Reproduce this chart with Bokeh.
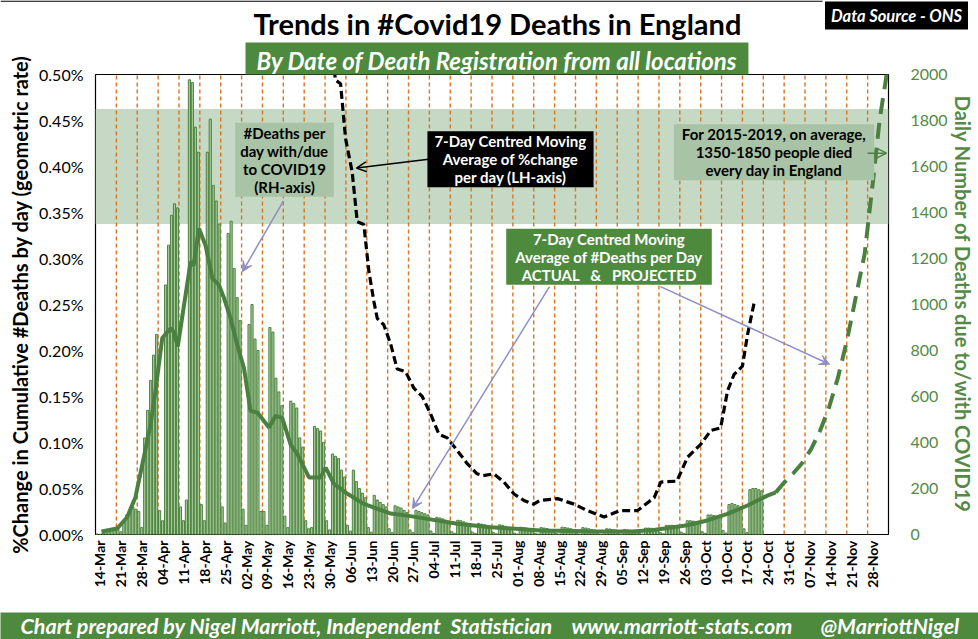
import math
import numpy as np
from bokeh.plotting import figure
from bokeh.layouts import column
from bokeh.models import (Range1d, LinearAxis, FixedTicker, PrintfTickFormatter,
                          BoxAnnotation, Label, Arrow, VeeHead, OpenHead)
from bokeh.embed import file_html
from bokeh.resources import INLINE

# ---------------- data ----------------
TICK_LABELS = ["14-Mar", "21-Mar", "28-Mar", "04-Apr", "11-Apr", "18-Apr", "25-Apr",
               "02-May", "09-May", "16-May", "23-May", "30-May", "06-Jun", "13-Jun",
               "20-Jun", "27-Jun", "04-Jul", "11-Jul", "18-Jul", "25-Jul", "01-Aug",
               "08-Aug", "15-Aug", "22-Aug", "29-Aug", "05-Sep", "12-Sep", "19-Sep",
               "26-Sep", "03-Oct", "10-Oct", "17-Oct", "24-Oct", "31-Oct", "07-Nov",
               "14-Nov", "21-Nov", "28-Nov"]
LEFT_TICKS = [0.0, 0.05, 0.10, 0.15, 0.20, 0.25, 0.30, 0.35, 0.40, 0.45, 0.50]
RIGHT_TICKS = [0, 200, 400, 600, 800, 1000, 1200, 1400, 1600, 1800, 2000]

# daily registered deaths (from 14-Mar, one value per day)
DAILY_DEATHS = [
    2, 1, 5, 8, 12, 18, 25,
    30, 12, 60, 85, 105, 120, 110,
    100, 30, 420, 540, 670, 780, 870,
    104, 60, 1085, 1258, 1388, 1438, 1420,
    120, 60, 150, 1977, 1965, 1771, 1662,
    130, 60, 1662, 1806, 1518, 1450, 1350,
    120, 50, 1309, 1362, 1157, 1030, 930,
    110, 40, 913, 1000, 850, 800, 100,
    100, 40, 900, 880, 680, 620, 560,
    80, 30, 580, 570, 550, 420, 380,
    60, 25, 30, 470, 460, 450, 400,
    60, 20, 350, 340, 330, 280, 250,
    40, 15, 280, 230, 200, 180, 160,
    30, 10, 170, 150, 140, 130, 120,
    25, 8, 125, 120, 115, 105, 95,
    20, 8, 105, 100, 95, 90, 85,
    15, 5, 75, 72, 68, 62, 58,
    12, 5, 62, 60, 55, 50, 48,
    10, 4, 48, 45, 42, 38, 35,
    8, 3, 42, 40, 36, 32, 30,
    6, 2, 32, 30, 28, 25, 22,
    5, 2, 30, 28, 26, 22, 20,
    5, 2, 32, 30, 28, 25, 22,
    5, 2, 30, 28, 25, 22, 20,
    4, 2, 3, 25, 24, 22, 20,
    4, 2, 22, 20, 18, 16, 14,
    5, 2, 28, 28, 27, 25, 22,
    8, 3, 40, 40, 40, 38, 38,
    10, 4, 60, 60, 58, 55, 55,
    12, 5, 85, 85, 82, 80, 75,
    18, 6, 130, 135, 130, 125, 120,
    25, 8, 195, 200, 200, 195, 190,
]

# 7-day centred moving average of deaths (actual)
MA_DAY = [2, 7.3, 10.6, 13.4, 16.2, 18.5, 20.1, 22.4, 25.2, 26.3, 27.6, 31.9, 32.9,
          34.7, 36.9, 39.2, 41.4, 43.1, 45.3, 47.5, 49.8, 52, 54.3, 58.2, 60.4, 62.6,
          65.4, 67.7, 71.6, 75.5, 77.2, 80, 84.5, 90, 99, 104.6, 111.3, 121.4, 132.6,
          149.3, 165, 180, 187.3, 198.5, 205.2, 212, 218.7, 225.4, 228.2]
MA_DEATHS = [13, 26, 75, 162, 335, 480, 623, 854, 897, 880, 818, 1186, 1170,
             1330, 1258, 1114, 1085, 1028, 941, 826, 724, 537, 530, 465, 515, 508,
             393, 350, 248, 248, 291, 220, 177, 133, 91, 82, 68, 47, 32,
             17, 14, 13, 20, 40, 61, 90, 126, 169, 183]

# projected moving average
PROJ_DAY = [228.2, 231, 234, 237, 240, 243, 246, 249, 252, 255, 258, 261, 263, 265.5]
PROJ_DEATHS = [183, 226, 265, 310, 370, 450, 550, 680, 840, 1030, 1220, 1560, 1800, 2010]

# 7-day centred moving average of % change per day
RATE_DAY = [74, 78, 80.5, 82.2, 83.9, 86.1, 87.8, 90, 91.7, 93.4, 94.5, 96.7, 99, 101.2,
            104, 106.8, 109.6, 112.4, 115.2, 118, 121.4, 124.7, 128, 130, 133.6, 137,
            140.4, 143.7, 147, 149, 155, 160.5, 165, 170.6, 176, 181.8, 187.4, 189.6,
            195, 198.6, 203, 206.4, 209.7, 212, 214.2, 217, 218.7, 221]
RATE_PCT = [0.70, 0.56, 0.494, 0.49, 0.43, 0.394, 0.34, 0.337, 0.286, 0.253, 0.235, 0.228,
            0.207, 0.18, 0.177, 0.159, 0.15, 0.131, 0.109, 0.105, 0.091, 0.077, 0.066,
            0.064, 0.066, 0.057, 0.044, 0.037, 0.033, 0.037, 0.039, 0.033, 0.026, 0.019,
            0.026, 0.026, 0.040, 0.057, 0.058, 0.084, 0.098, 0.113, 0.116, 0.156, 0.174,
            0.183, 0.217, 0.253]

NORMAL_LOW, NORMAL_HIGH = 1350, 1850

TITLE = "Trends in #Covid19 Deaths in England"
SUBTITLE = "By Date of Death Registration from all locations"
SOURCE = "Data Source - ONS"
NB = "\u00a0"
FOOTER = ["Chart prepared by Nigel Marriott, Independent" + NB + NB + "Statistician",
          "www.marriott-stats.com", "@MarriottNigel"]

# ---------------- styling / layout ----------------
FONT = "Lato"
GREEN = "#4e8a3e"
GREEN_AX = "#548a45"
BAR_FILL = "#a3c994"
BAR_LINE = "#4f8343"
MA_COLOR = "#4a8040"
BAND = "#c6d9c4"
BOX_SAGE = "#a8c3a5"
ORANGE = "#d9741f"
LAVENDER = "#8e8ec4"

W = 978
HEAD_H, MAIN_H, FOOT_H = 40, 572, 27
# frame in page pixels
RX0, RX1, RY0, RY1 = 95, 888, 72, 534
MAIN_TOP = HEAD_H
X_MAX = 266
PX_PER_DAY = (RX1 - RX0) / X_MAX


def dx(rx):
    return (rx - RX0) / PX_PER_DAY


def vy(ry):
    return (RY1 - ry) * 2000 / (RY1 - RY0)


def plain_fig(h, bg):
    f = figure(width=W, height=h, output_backend="svg", toolbar_location=None,
               x_range=Range1d(0, W), y_range=Range1d(0, h),
               x_axis_type=None, y_axis_type=None, min_border=0)
    f.frame_align = False
    f.title.visible = False
    f.outline_line_color = None
    f.background_fill_color = bg
    f.border_fill_color = bg
    return f


# ---------------- header ----------------
head = plain_fig(HEAD_H, "white")
head.segment(x0=[0], x1=[822], y0=[HEAD_H - 0.6], y1=[HEAD_H - 0.6],
             line_color="black", line_width=1.2)
head.add_layout(Label(x=497, y=HEAD_H - 23, text=TITLE, text_font=FONT,
                      text_font_size="29px", text_font_style="bold", text_color="black",
                      text_align="center", text_baseline="middle"))
head.add_layout(Label(x=896, y=HEAD_H - 15, text=SOURCE, text_font=FONT,
                      text_font_size="16.5px", text_font_style="bold italic",
                      text_color="white", text_align="center", text_baseline="middle",
                      background_fill_color="black", background_fill_alpha=1.0,
                      padding=dict(left=6, right=6, top=4, bottom=4)))

# ---------------- main chart ----------------
p = figure(width=W, height=MAIN_H, output_backend="svg", toolbar_location=None,
           x_range=Range1d(0, X_MAX), y_range=Range1d(0, 0.5),
           min_border_left=RX0, min_border_right=W - RX1,
           min_border_top=RY0 - MAIN_TOP, min_border_bottom=MAIN_H - (RY1 - MAIN_TOP))
p.frame_align = False
p.extra_y_ranges = {"right": Range1d(0, 2000)}
p.xgrid.visible = False
p.ygrid.visible = False
p.outline_line_color = "black"
p.outline_line_width = 1.2
p.background_fill_color = "white"
p.border_fill_color = "white"

# subtitle as the plot title (green box just above the frame)
p.title.text = SUBTITLE
p.title.align = "left"
p.title.offset = 245 - RX0
p.title.vertical_align = "bottom"
p.title.standoff = 0
p.title.text_font = FONT
p.title.text_font_size = "24px"
p.title.text_font_style = "bold italic"
p.title.text_color = "white"
p.title.background_fill_color = GREEN
p.title.background_fill_alpha = 1.0
p.title.padding = dict(left=11, right=11, top=3, bottom=0)

# normal-deaths band
p.add_layout(BoxAnnotation(bottom=NORMAL_LOW, top=NORMAL_HIGH, y_range_name="right",
                           fill_color=BAND, fill_alpha=1.0, line_color=None,
                           level="underlay"))

# weekly dashed lines
tick_days = [7 * i for i in range(len(TICK_LABELS))]
grid_days = tick_days[1:]
p.segment(x0=grid_days, x1=grid_days, y0=[0] * len(grid_days), y1=[0.5] * len(grid_days),
          line_color=ORANGE, line_width=1.4, line_dash="4 3")

# bars
days = np.arange(len(DAILY_DEATHS)) + 0.5
p.vbar(x=days, top=DAILY_DEATHS, width=0.72, y_range_name="right",
       fill_color=BAR_FILL, line_color=BAR_LINE, line_width=1)

# moving average lines
p.line(MA_DAY, MA_DEATHS, y_range_name="right", line_color=MA_COLOR, line_width=4)
p.line(PROJ_DAY, PROJ_DEATHS, y_range_name="right", line_color=MA_COLOR, line_width=4,
       line_dash="16 9")
p.line(RATE_DAY, RATE_PCT, line_color="black", line_width=3.2, line_dash="8 4")

# ---------------- axes ----------------
xa = p.xaxis[0]
label_pos = [t + 1.5 for t in tick_days]
xa.ticker = FixedTicker(ticks=label_pos)
xa.major_label_overrides = {pos: lab for pos, lab in zip(label_pos, TICK_LABELS)}
xa.major_label_orientation = math.pi / 2
xa.major_label_text_font = FONT
xa.major_label_text_font_size = "14px"
xa.major_label_text_font_style = "bold"
xa.major_label_text_color = "black"
xa.major_label_standoff = 6
xa.major_tick_out = 0
xa.major_tick_in = 0
xa.axis_line_color = None
xa.major_tick_line_color = None
xa.minor_tick_line_color = None

ya = p.yaxis[0]
ya.ticker = FixedTicker(ticks=LEFT_TICKS)
ya.formatter = PrintfTickFormatter(format="%.2f%%")
ya.major_label_text_font = FONT
ya.major_label_text_font_size = "16px"
ya.major_label_text_color = "black"
ya.major_label_standoff = 12
ya.major_tick_out = 0
ya.major_tick_in = 0
ya.axis_label = "%Change in Cumulative #Deaths by day (geometric rate)"
ya.axis_label_text_font = FONT
ya.axis_label_text_font_size = "20px"
ya.axis_label_text_font_style = "bold"
ya.axis_label_text_color = "black"
ya.axis_label_standoff = 4
ya.axis_line_color = None
ya.major_tick_line_color = None
ya.minor_tick_line_color = None

ra = LinearAxis(y_range_name="right", ticker=FixedTicker(ticks=RIGHT_TICKS))
ra.major_label_text_font = FONT
ra.major_label_text_font_size = "16px"
ra.major_label_text_color = GREEN_AX
ra.major_label_standoff = 22
ra.major_tick_out = 0
ra.major_tick_in = 0
ra.axis_label = "Daily Number of Deaths due to/with COVID19"
ra.axis_label_text_font = FONT
ra.axis_label_text_font_size = "20px"
ra.axis_label_text_font_style = "bold"
ra.axis_label_text_color = GREEN_AX
ra.axis_label_standoff = 0
ra.axis_line_color = None
ra.major_tick_line_color = None
ra.minor_tick_line_color = None
p.add_layout(ra, "right")


# ---------------- annotations ----------------
def label(text, rx, ry, size, color="black", style="bold", bg=None, pad=(0, 0), lh=1.0):
    kw = dict(x=dx(rx), y=vy(ry), y_range_name="right", text=text,
              text_font=FONT, text_font_size=size, text_font_style=style,
              text_color=color, text_align="center", text_baseline="middle",
              text_line_height=lh)
    if bg is not None:
        kw["background_fill_color"] = bg
        kw["background_fill_alpha"] = 1.0
        kw["padding"] = dict(left=pad[0], right=pad[0], top=pad[1], bottom=pad[1])
    p.add_layout(Label(**kw))


label("#Deaths per\nday with/due\nto COVID19\n(RH-axis)", 284, 157.5, "15px",
      bg=BOX_SAGE, pad=(5, 1))
label("7-Day Centred Moving\nAverage of %change\nper day (LH-axis)", 510, 157, "15px",
      color="white", bg="black", pad=(7, 1))
label("7-Day Centred Moving\nAverage of #Deaths per Day\nACTUAL" + NB * 3 + "&" + NB * 3
      + "PROJECTED", 608.5, 255, "15px", color="white", bg=GREEN, pad=(9, 1))
label("For 2015-2019, on average,\n1350-1850 people died\nevery day in England", 773.5,
      150, "15px", bg=BOX_SAGE, pad=(8, 1))


def arrow(r0, r1, color, head="vee"):
    h = VeeHead(size=10, fill_color=color, line_color=color) if head == "vee" else \
        OpenHead(size=10, line_color=color, line_width=1.5)
    p.add_layout(Arrow(x_start=dx(r0[0]), y_start=vy(r0[1]), x_end=dx(r1[0]), y_end=vy(r1[1]),
                       y_range_name="right", line_color=color, line_width=1.5, end=h))


arrow((283, 199), (242, 270), LAVENDER)
arrow((428, 157), (356, 166), "black", head="open")
arrow((549, 285), (412, 508), LAVENDER)
arrow((660, 285), (829, 363), LAVENDER)
arrow((867, 151), (886, 151), "#4e7f45", head="open")

# ---------------- footer ----------------
foot = plain_fig(FOOT_H, GREEN)
for txt, rx in zip(FOOTER, [20, 571, 820]):
    foot.add_layout(Label(x=rx, y=FOOT_H / 2, text=txt, text_font=FONT,
                          text_font_size="21.5px", text_font_style="bold italic",
                          text_color="white", text_align="left", text_baseline="middle"))

layout = column(head, p, foot, spacing=0)
open("out.html", "w").write(file_html(layout, INLINE))
